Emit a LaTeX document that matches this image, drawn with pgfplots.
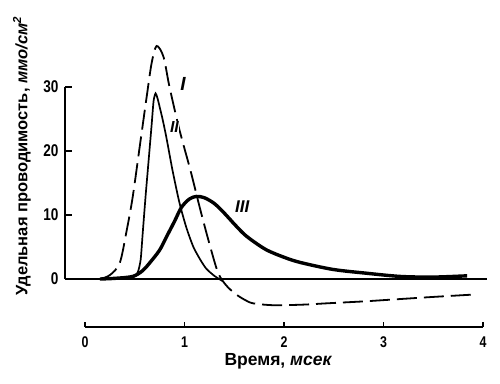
\documentclass[border=0pt]{standalone}
\usepackage{fontspec}
\setmainfont{Liberation Sans}
\newfontfamily\condsans{Liberation Sans}[FakeStretch=0.8]
\newfontfamily\romfont{Liberation Sans}
\usepackage{pgfplots}
\pgfplotsset{compat=1.18}
\begin{document}
\begin{tikzpicture}[x=1pt,y=1pt]
\useasboundingbox (0,0) rectangle (500,383);
\begin{axis}[
  at={(65pt,104pt)}, anchor=south west, scale only axis,
  width=422pt, height=192pt,
  xmin=-0.2, xmax=4.04, ymin=0, ymax=30,
  axis x line=none, axis y line*=left,
  axis line style={line width=1.8pt},
  ytick={0,10,20,30}, tick align=inside, major tick length=7pt,
  tick style={line width=1.5pt, black},
  /pgf/number format/assume math mode=true,
  yticklabel style={font=\condsans\bfseries\fontsize{17}{17}\selectfont, anchor=east, xshift=-3pt},
  clip=false,
]
\draw[line width=1.8pt] (axis cs:-0.2,0) -- (axis cs:4.04,0);
% Curve I (dashed)
\addplot[black, line width=1.8pt, dash pattern=on 20pt off 7pt, smooth, tension=0.5] coordinates {
(0.15,0) (0.25,0.6) (0.35,2.5) (0.42,7.6) (0.48,12.8) (0.55,20.6) (0.62,28.4) (0.67,33.7) (0.72,36.4)
(0.79,34.7) (0.85,30) (0.95,23.3) (1.06,17) (1.16,10.8) (1.26,5) (1.34,0.9) (1.42,-1.0) (1.51,-2.3)
(1.60,-3.2) (1.69,-3.8) (1.9,-4.1) (2.2,-4.0) (2.43,-3.8) (2.8,-3.5) (3.1,-3.2) (3.5,-2.8) (3.94,-2.4)
};
% Curve II (thin)
\addplot[black, line width=1.7pt, smooth, tension=0.4] coordinates {
(0.40,0) (0.48,0.2) (0.53,1.0) (0.56,3) (0.58,7.0) (0.61,13) (0.64,18.5) (0.67,24) (0.69,27.8) (0.71,29)
(0.73,28.2) (0.78,25) (0.82,22) (0.88,17) (0.95,11.9) (1.02,8) (1.09,5) (1.16,3) (1.22,1.6) (1.30,0.5) (1.38,-0.3)
};
% Curve III (thick)
\addplot[black, line width=3.4pt, smooth, tension=0.5] coordinates {
(0.15,0) (0.3,0.1) (0.48,0.4) (0.58,1.3) (0.65,2.5) (0.75,4.5) (0.82,6.6) (0.9,9) (0.97,11.2) (1.05,12.5)
(1.12,12.9) (1.2,12.7) (1.3,11.8) (1.4,10.3) (1.5,8.6) (1.6,7.0) (1.7,5.8) (1.83,4.5) (2.0,3.4) (2.16,2.6) (2.49,1.5)
(2.83,0.9) (3.17,0.4) (3.5,0.3) (3.84,0.5)
};
\node[font=\romfont\bfseries\itshape\fontsize{19}{19}\selectfont] at (axis cs:0.985,30.5) {I};
\node[font=\romfont\bfseries\itshape\fontsize{16}{16}\selectfont, fill=white, inner sep=0.5pt] at (axis cs:0.90,23.75) {II};
\node[font=\romfont\bfseries\itshape\fontsize{17}{17}\selectfont] at (axis cs:1.58,11.25) {III};
\end{axis}
\begin{axis}[
  at={(85pt,56pt)}, anchor=south west, scale only axis,
  width=398pt, height=10pt,
  xmin=0, xmax=4, ymin=0, ymax=1,
  axis x line*=bottom, axis y line=none,
  axis line style={line width=1.8pt},
  xtick={0,1,2,3,4}, tick align=inside, major tick length=5pt,
  tick style={line width=1.5pt, black},
  /pgf/number format/assume math mode=true,
  xticklabel style={font=\condsans\bfseries\fontsize{15.5}{15.5}\selectfont, anchor=north, yshift=-6pt},
]
\end{axis}
\node[font=\bfseries\fontsize{17.5}{17.5}\selectfont] at (278,22) {Время, {\itshape мсек}};
\node[rotate=90, font=\bfseries\fontsize{16.5}{16.5}\selectfont] at (22,227) {Удельная проводимость, {\itshape ммо/см\textsuperscript{2}}};
\end{tikzpicture}
\end{document}
